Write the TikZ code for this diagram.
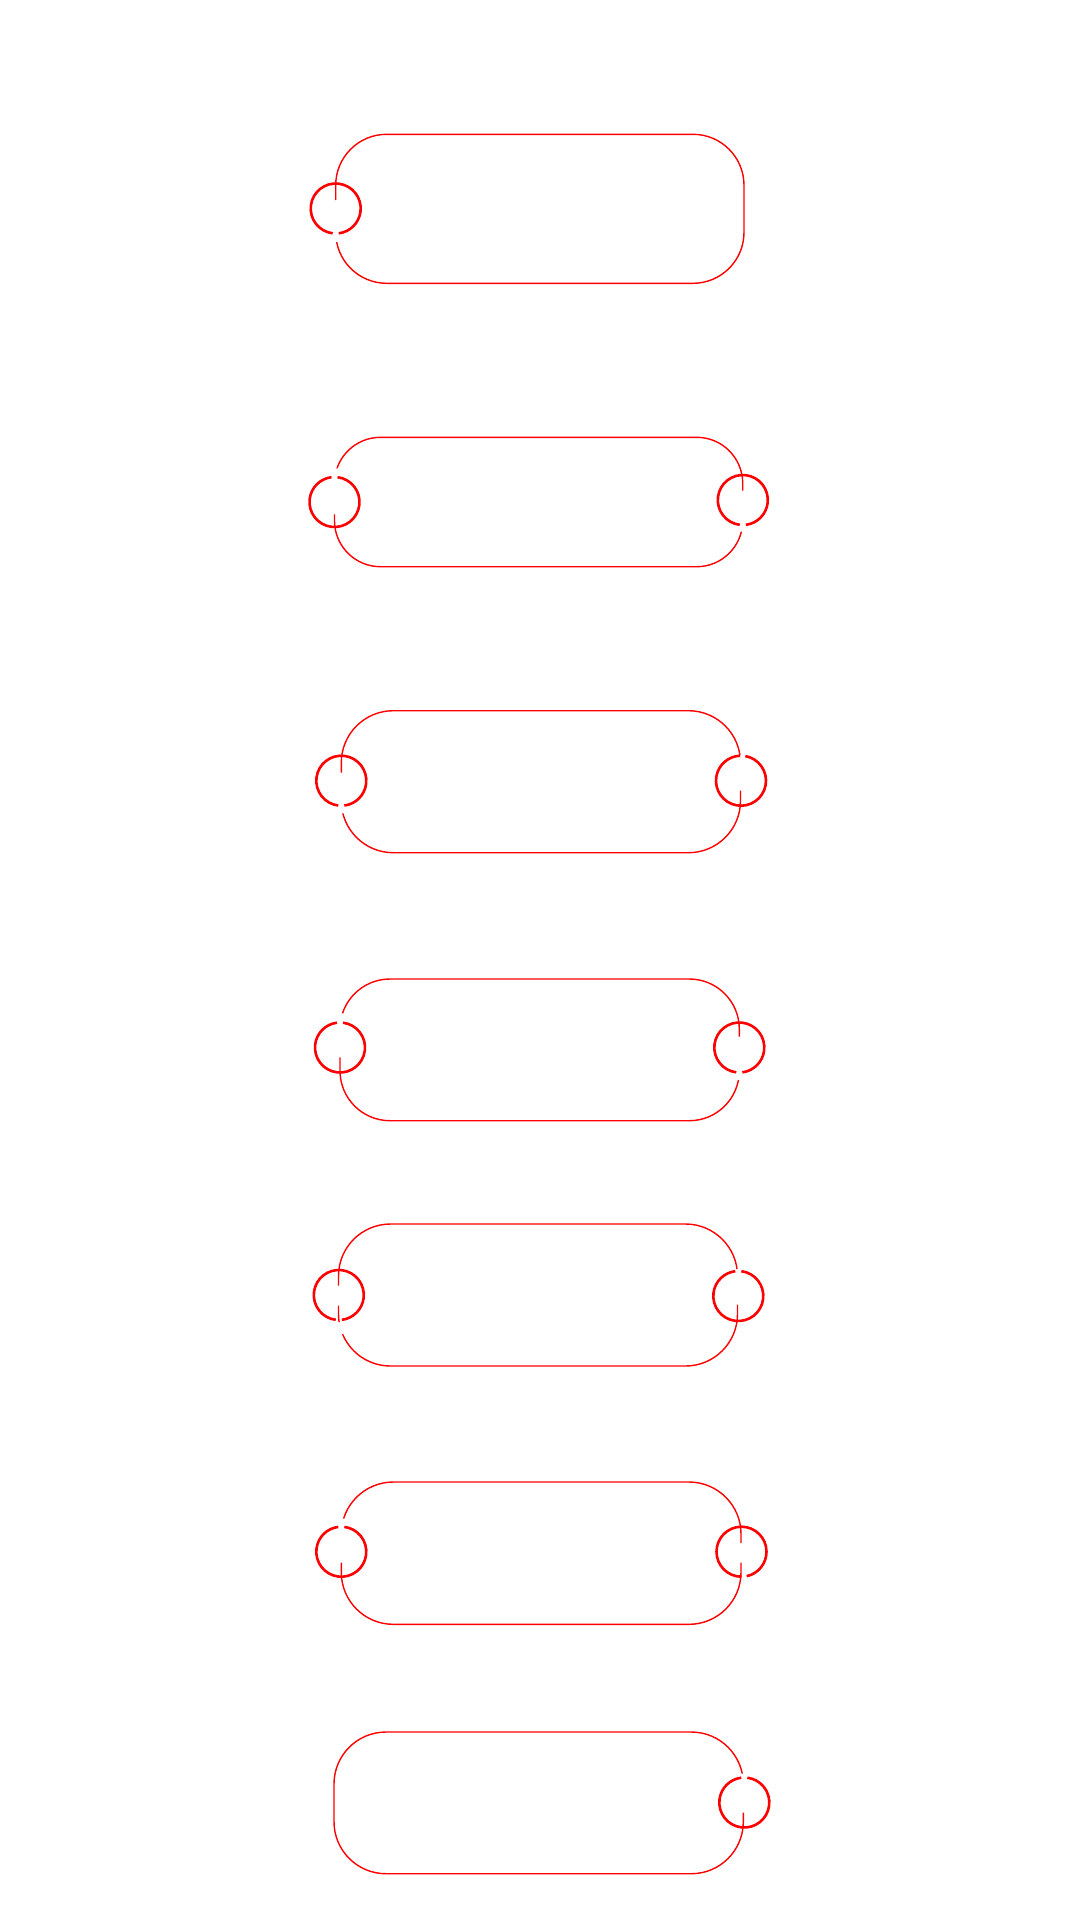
\documentclass[tikz,border=0pt]{standalone}
\begin{document}
\begin{tikzpicture}[x=1pt,y=-1pt,
    band/.style={red,line width=1.4pt},
    ring/.style={red,line width=2.6pt}]

  \useasboundingbox (0,0) rectangle (1080,1920);

  \coordinate (l1) at (335.7,208.5);
  \coordinate (l2) at (334.5,502);
  \coordinate (r2) at (742.8,500);
  \coordinate (l3) at (341.3,780.7);
  \coordinate (r3) at (741,780.7);
  \coordinate (l4) at (340,1047.5);
  \coordinate (r4) at (739.3,1047.5);
  \coordinate (l5) at (338.8,1295);
  \coordinate (r5) at (738.3,1296);
  \coordinate (l6) at (341.3,1551.7);
  \coordinate (r6) at (741.5,1551.7);
  \coordinate (r7) at (744.3,1802.5);

  \begin{scope}[even odd rule]
    \clip (0,0) rectangle (1080,1920)
      (322,200) rectangle (350,242);
    \draw[band,rounded corners=51pt] (335.7,134.3) rectangle (744,283.3);
  \end{scope}

  \begin{scope}[even odd rule]
    \clip (0,0) rectangle (1080,1920)
      (320,468.3) rectangle (348,514.3)
      (729,490.7) rectangle (757,531.7);
    \draw[band,rounded corners=46pt] (334.5,437.3) rectangle (742.7,566.7);
  \end{scope}

  \begin{scope}[even odd rule]
    \clip (0,0) rectangle (1080,1920)
      (327,772.7) rectangle (355,813.3)
      (727,755) rectangle (755,790.7);
    \draw[band,rounded corners=52pt] (341.3,710.7) rectangle (740.5,852.7);
  \end{scope}

  \begin{scope}[even odd rule]
    \clip (0,0) rectangle (1080,1920)
      (326,1013.3) rectangle (354,1057.3)
      (725,1036.7) rectangle (753,1080);
    \draw[band,rounded corners=50pt] (340,979) rectangle (739.3,1120.7);
  \end{scope}

  \begin{scope}[even odd rule]
    \clip (0,0) rectangle (1080,1920)
      (325,1285.7) rectangle (353,1305.7)
      (325,1322) rectangle (353,1334)
      (724,1269) rectangle (752,1304.7);
    \draw[band,rounded corners=52pt] (338.5,1224) rectangle (737.5,1366);
  \end{scope}

  \begin{scope}[even odd rule]
    \clip (0,0) rectangle (1080,1920)
      (327,1518.7) rectangle (355,1562.7)
      (727,1543) rectangle (755,1562.7);
    \draw[band,rounded corners=52pt] (341.3,1482) rectangle (741,1624.3);
  \end{scope}

  \begin{scope}[even odd rule]
    \clip (0,0) rectangle (1080,1920)
      (730,1773.7) rectangle (758,1812.7);
    \draw[band,rounded corners=52pt] (334,1732) rectangle (743.3,1873.7);
  \end{scope}

  \draw[ring] (l1) ++(97:25) arc[start angle=97,end angle=443,radius=25];
  \draw[ring] (l2) ++(-83:25) arc[start angle=-83,end angle=263,radius=25];
  \draw[ring] (r2) ++(97:25) arc[start angle=97,end angle=443,radius=25];
  \draw[ring] (l3) ++(97:25) arc[start angle=97,end angle=443,radius=25];
  \draw[ring] (r3) ++(-80:25) arc[start angle=-80,end angle=268,radius=25];
  \draw[ring] (l4) ++(-83:25) arc[start angle=-83,end angle=263,radius=25];
  \draw[ring] (r4) ++(97:25) arc[start angle=97,end angle=443,radius=25];
  \draw[ring] (l5) ++(97:25) arc[start angle=97,end angle=443,radius=25];
  \draw[ring] (r5) ++(-83:25) arc[start angle=-83,end angle=263,radius=25];
  \draw[ring] (l6) ++(-83:25) arc[start angle=-83,end angle=263,radius=25];
  \draw[ring] (r6) ++(90:25) arc[start angle=90,end angle=438,radius=25];
  \draw[ring] (r7) ++(-83:25) arc[start angle=-83,end angle=263,radius=25];

\end{tikzpicture}
\end{document}
